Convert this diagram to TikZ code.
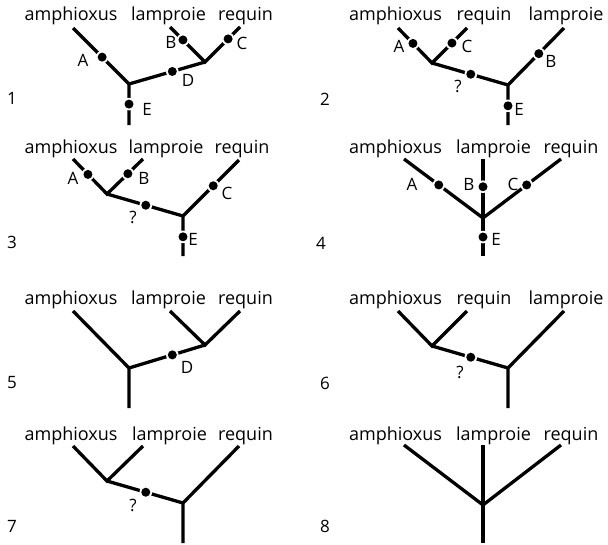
\documentclass[tikz,border=0pt]{standalone}
\usepackage{fontspec}
\setmainfont{Open Sans}
\usetikzlibrary{calc}
\begin{document}
\begin{tikzpicture}[x=1pt,y=-1pt,
  branch/.style={line width=3.3pt},
  taxon/.style={anchor=base,inner sep=0pt,font=\fontsize{18}{20}\selectfont},
  lbl/.style={inner sep=0pt,font=\fontsize{17}{19}\selectfont},
  num/.style={inner sep=0pt,font=\fontsize{17}{19}\selectfont}]
\useasboundingbox (0,0) rectangle (608,544);
\newcommand{\chardot}[1]{\fill[white] (#1) circle (6.3); \fill[black] (#1) circle (4.5);}
% ---------- Tree 1
\node[taxon] (t1a) at (71,20) {amphioxus};
\node[taxon] (t1l) at (168.5,20) {lamproie};
\node[taxon] (t1r) at (245.5,20) {requin};
\coordinate (a1L1) at (73,28); \coordinate (a1J1) at (129,84); \coordinate (a1R) at (129,125);
\coordinate (a1J2) at (205,62); \coordinate (a1L2) at (170,27); \coordinate (a1L3) at (240,27);
\draw[branch] (a1L1) -- (a1J1) -- (a1R);
\draw[branch] (a1J1) -- (a1J2);
\draw[branch] (a1L2) -- (a1J2) -- (a1L3);
\coordinate (a1A) at ($(a1L1)!0.52!(a1J1)$);
\coordinate (a1E) at ($(a1J1)!0.49!(a1R)$);
\coordinate (a1D) at ($(a1J1)!0.57!(a1J2)$);
\coordinate (a1B) at ($(a1L2)!0.37!(a1J2)$);
\coordinate (a1C) at ($(a1L3)!0.34!(a1J2)$);
\chardot{a1A}\chardot{a1E}\chardot{a1D}\chardot{a1B}\chardot{a1C}
\node[lbl] (a1Al) at (83,60) {A};
\node[lbl] (a1El) at (147,109) {E};
\node[lbl] (a1Dl) at (188,80) {D};
\node[lbl] (a1Bl) at (171,42) {B};
\node[lbl] (a1Cl) at (242,43) {C};
\node[num] (n1) at (12,98) {1};
% ---------- Tree 2
\node[taxon] (t2a) at (395.5,20) {amphioxus};
\node[taxon] (t2r) at (484,20) {requin};
\node[taxon] (t2l) at (566,20) {lamproie};
\coordinate (a2L1) at (398,28); \coordinate (a2J1) at (432,63); \coordinate (a2L2) at (467,28);
\coordinate (a2J2) at (508,85); \coordinate (a2L3) at (564,28); \coordinate (a2R) at (508,125);
\draw[branch] (a2L1) -- (a2J1) -- (a2L2);
\draw[branch] (a2J1) -- (a2J2);
\draw[branch] (a2L3) -- (a2J2) -- (a2R);
\coordinate (a2A) at ($(a2L1)!0.44!(a2J1)$);
\coordinate (a2C) at ($(a2L2)!0.43!(a2J1)$);
\coordinate (a2Q) at ($(a2J1)!0.51!(a2J2)$);
\coordinate (a2B) at ($(a2L3)!0.45!(a2J2)$);
\coordinate (a2E) at ($(a2J2)!0.52!(a2R)$);
\chardot{a2A}\chardot{a2C}\chardot{a2Q}\chardot{a2B}\chardot{a2E}
\node[lbl] (a2Al) at (399,46) {A};
\node[lbl] (a2Cl) at (467,46) {C};
\node[lbl] (a2Ql) at (458,86) {?};
\node[lbl] (a2Bl) at (551,61) {B};
\node[lbl] (a2El) at (519,109) {E};
\node[num] (n2) at (325,99) {2};
% ---------- Tree 3
\node[taxon] (t3a) at (71,153) {amphioxus};
\node[taxon] (t3l) at (166,153) {lamproie};
\node[taxon] (t3r) at (242,153) {requin};
\coordinate (a3L1) at (73,159); \coordinate (a3J1) at (107,194); \coordinate (a3L2) at (143,159);
\coordinate (a3J2) at (183,216); \coordinate (a3L3) at (239,160); \coordinate (a3R) at (183,256);
\draw[branch] (a3L1) -- (a3J1) -- (a3L2);
\draw[branch] (a3J1) -- (a3J2);
\draw[branch] (a3L3) -- (a3J2) -- (a3R);
\coordinate (a3A) at ($(a3L1)!0.44!(a3J1)$);
\coordinate (a3B) at ($(a3L2)!0.42!(a3J1)$);
\coordinate (a3Q) at ($(a3J1)!0.51!(a3J2)$);
\coordinate (a3C) at ($(a3L3)!0.46!(a3J2)$);
\coordinate (a3E) at ($(a3J2)!0.52!(a3R)$);
\chardot{a3A}\chardot{a3B}\chardot{a3Q}\chardot{a3C}\chardot{a3E}
\node[lbl] (a3Al) at (73,178) {A};
\node[lbl] (a3Bl) at (144,178) {B};
\node[lbl] (a3Ql) at (133,217) {?};
\node[lbl] (a3Cl) at (227,193) {C};
\node[lbl] (a3El) at (193,239) {E};
\node[num] (n3) at (12,242) {3};
% ---------- Tree 4
\node[taxon] (t4a) at (395.5,153) {amphioxus};
\node[taxon] (t4l) at (493.5,153) {lamproie};
\node[taxon] (t4r) at (571,153) {requin};
\coordinate (a4L1) at (404,159); \coordinate (a4L2) at (483,159); \coordinate (a4L3) at (561,159);
\coordinate (a4J) at (483,218); \coordinate (a4R) at (483,256);
\draw[branch] (a4L1) -- (a4J) -- (a4L3);
\draw[branch] (a4L2) -- (a4R);
\coordinate (a4A) at ($(a4L1)!0.44!(a4J)$);
\coordinate (a4B) at ($(a4L2)!0.47!(a4J)$);
\coordinate (a4C) at ($(a4L3)!0.44!(a4J)$);
\coordinate (a4E) at ($(a4J)!0.5!(a4R)$);
\chardot{a4A}\chardot{a4B}\chardot{a4C}\chardot{a4E}
\node[lbl] (a4Al) at (412,184) {A};
\node[lbl] (a4Bl) at (469,184) {B};
\node[lbl] (a4Cl) at (513,184) {C};
\node[lbl] (a4El) at (496,239) {E};
\node[num] (n4) at (321,243) {4};
% ---------- Tree 5
\node[taxon] (t5a) at (71,304) {amphioxus};
\node[taxon] (t5l) at (168.5,304) {lamproie};
\node[taxon] (t5r) at (245.5,304) {requin};
\coordinate (a5L1) at (73,311); \coordinate (a5J1) at (129,368); \coordinate (a5R) at (129,408);
\coordinate (a5J2) at (205,345); \coordinate (a5L2) at (170,311); \coordinate (a5L3) at (240,311);
\draw[branch] (a5L1) -- (a5J1) -- (a5R);
\draw[branch] (a5J1) -- (a5J2);
\draw[branch] (a5L2) -- (a5J2) -- (a5L3);
\coordinate (a5D) at ($(a5J1)!0.57!(a5J2)$);
\chardot{a5D}
\node[lbl] (a5Dl) at (187,367) {D};
\node[num] (n5) at (12,383) {5};
% ---------- Tree 6
\node[taxon] (t6a) at (395.5,304) {amphioxus};
\node[taxon] (t6r) at (484,304) {requin};
\node[taxon] (t6l) at (566,304) {lamproie};
\coordinate (a6L1) at (398,311); \coordinate (a6J1) at (432,346); \coordinate (a6L2) at (467,311);
\coordinate (a6J2) at (508,368); \coordinate (a6L3) at (564,311); \coordinate (a6R) at (508,408);
\draw[branch] (a6L1) -- (a6J1) -- (a6L2);
\draw[branch] (a6J1) -- (a6J2);
\draw[branch] (a6L3) -- (a6J2) -- (a6R);
\coordinate (a6Q) at ($(a6J1)!0.51!(a6J2)$);
\chardot{a6Q}
\node[lbl] (a6Ql) at (460,372) {?};
\node[num] (n6) at (325,383) {6};
% ---------- Tree 7
\node[taxon] (t7a) at (71,440) {amphioxus};
\node[taxon] (t7l) at (169.5,440) {lamproie};
\node[taxon] (t7r) at (245.5,440) {requin};
\coordinate (a7L1) at (73,446); \coordinate (a7J1) at (107,481); \coordinate (a7L2) at (143,446);
\coordinate (a7J2) at (183,503); \coordinate (a7L3) at (239,446); \coordinate (a7R) at (183,543);
\draw[branch] (a7L1) -- (a7J1) -- (a7L2);
\draw[branch] (a7J1) -- (a7J2);
\draw[branch] (a7L3) -- (a7J2) -- (a7R);
\coordinate (a7Q) at ($(a7J1)!0.51!(a7J2)$);
\chardot{a7Q}
\node[lbl] (a7Ql) at (133,505) {?};
\node[num] (n7) at (12,526) {7};
% ---------- Tree 8
\node[taxon] (t8a) at (395.5,440) {amphioxus};
\node[taxon] (t8l) at (493.5,440) {lamproie};
\node[taxon] (t8r) at (571,440) {requin};
\coordinate (a8L1) at (404,445); \coordinate (a8L2) at (483,445); \coordinate (a8L3) at (561,445);
\coordinate (a8J) at (483,505); \coordinate (a8R) at (483,543);
\draw[branch] (a8L1) -- (a8J) -- (a8L3);
\draw[branch] (a8L2) -- (a8R);
\node[num] (n8) at (325,526) {8};
\end{tikzpicture}
\end{document}
